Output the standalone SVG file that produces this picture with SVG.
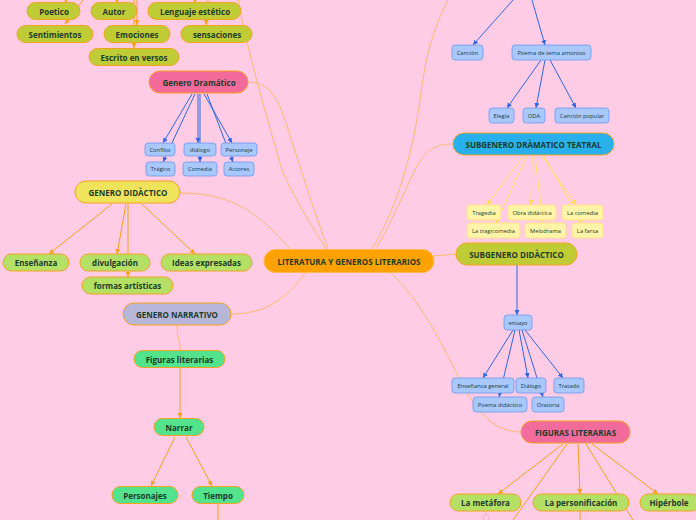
<svg xmlns="http://www.w3.org/2000/svg" width="696" height="520" viewBox="0 0 696 520">
<defs>
<style>
text{font-family:"Open Sans","Noto Sans","DejaVu Sans",sans-serif;fill:#1E3B2A;text-anchor:middle;dominant-baseline:central}
.b{font-size:8px;font-weight:700}
.s{font-size:5.8px;font-weight:400}
.ol{fill:#C0CC36;stroke:#F5A21F;stroke-width:1}
.pk{fill:#F26B9A;stroke:#F5A21F;stroke-width:1}
.ye{fill:#F0E35C;stroke:#F5A21F;stroke-width:1}
.lg{fill:#B4E065;stroke:#F5A21F;stroke-width:1}
.lv{fill:#B8B6D8;stroke:#F5A21F;stroke-width:1}
.gr{fill:#52E38C;stroke:#F5A21F;stroke-width:1}
.or{fill:#FFA200;stroke:#FFB84D;stroke-width:1}
.bl{fill:#27B0EB;stroke:#F5A21F;stroke-width:1}
.sb{fill:#A8C8FF;stroke:#6E98F0;stroke-width:0.8}
.sy{fill:#FFF4A8;stroke:#FFE27A;stroke-width:0.8}
.co{fill:none;stroke:#FFB870;stroke-width:1}
.ao{fill:none;stroke:#F7A11A;stroke-width:1}
.ab{fill:none;stroke:#2F67E0;stroke-width:1}
.ay{fill:none;stroke:#FFE066;stroke-width:1}
</style>
<marker id="mo" markerUnits="userSpaceOnUse" markerWidth="6" markerHeight="6" refX="5" refY="3" orient="auto"><path d="M0,0.5 L5,3 L0,5.5 z" fill="#F7A11A"/></marker>
<marker id="mb" markerUnits="userSpaceOnUse" markerWidth="6" markerHeight="6" refX="5" refY="3" orient="auto"><path d="M0,0.5 L5,3 L0,5.5 z" fill="#2F67E0"/></marker>
<marker id="my" markerUnits="userSpaceOnUse" markerWidth="6" markerHeight="6" refX="5" refY="3" orient="auto"><path d="M0,0.5 L5,3 L0,5.5 z" fill="#FFD94D"/></marker>
</defs>
<rect width="696" height="520" fill="#FFCCE6"/>

<g id="connectors">
<!-- central curves -->
<path class="co" d="M326,249 C305,215 290,190 282,170 C268,120 252,70 238,0"/>
<path class="co" d="M328,249 C310,200 295,150 285,120 C275,90 265,83 248,82"/>
<path class="co" d="M290,249 C260,215 235,193 180,193"/>
<path class="co" d="M306,272 C285,300 265,314 231,314"/>
<path class="co" d="M372,249 C392,215 410,170 420,100 C425,60 432,30 448,0"/>
<path class="co" d="M376,249 C395,215 405,190 415,170 C425,150 435,144 453,144"/>
<path class="co" d="M434,256 L456,254"/>
<path class="co" d="M390,272 C420,300 440,340 460,380 C480,420 500,432 521,432"/>
<path class="co" d="M177,326 C177,335 180,340 180,350"/>
<!-- top orange -->
<path class="ao" d="M66,-2 L66,3" marker-end="url(#mo)"/>
<path class="ao" d="M83,0 L65,24" marker-end="url(#mo)"/>
<path class="ao" d="M117,-2 L117,3" marker-end="url(#mo)"/>
<path class="ao" d="M134,0 L134,48" marker-end="url(#mo)"/>
<path class="ao" d="M137,0 L137,25" marker-end="url(#mo)"/>
<path class="ao" d="M195,-2 L195,3" marker-end="url(#mo)"/>
<path class="ao" d="M208,0 L206,25" marker-end="url(#mo)"/>
<!-- Genero Dramatico -->
<path class="ab" d="M192,94 L163,143" marker-end="url(#mb)"/>
<path class="ab" d="M195,94 L163,162" marker-end="url(#mb)"/>
<path class="ab" d="M198,94 L198,143" marker-end="url(#mb)"/>
<path class="ab" d="M200,94 L200,162" marker-end="url(#mb)"/>
<path class="ab" d="M204,94 L232,143" marker-end="url(#mb)"/>
<path class="ab" d="M207,94 L233,162" marker-end="url(#mb)"/>
<!-- GENERO DIDACTICO -->
<path class="ao" d="M112,204 L49,254" marker-end="url(#mo)"/>
<path class="ao" d="M126,204 L117,254" marker-end="url(#mo)"/>
<path class="ao" d="M128,204 L128,277" marker-end="url(#mo)"/>
<path class="ao" d="M142,204 L195,254" marker-end="url(#mo)"/>
<!-- Narrativo -->
<path class="ao" d="M180,368 L180,418" marker-end="url(#mo)"/>
<path class="ao" d="M175,437 L151,486" marker-end="url(#mo)"/>
<path class="ao" d="M186,437 L212,486" marker-end="url(#mo)"/>
<path class="ao" d="M218,504 L218,520"/>
<!-- top right blue -->
<path class="ab" d="M513,0 L473,45" marker-end="url(#mb)"/>
<path class="ab" d="M532,0 L545,45" marker-end="url(#mb)"/>
<path class="ab" d="M541,60 L507,108" marker-end="url(#mb)"/>
<path class="ab" d="M545,60 L536,108" marker-end="url(#mb)"/>
<path class="ab" d="M550,60 L576,108" marker-end="url(#mb)"/>
<!-- teatral yellow -->
<path class="ay" d="M523,156 L487,205" marker-end="url(#my)" stroke-width="0.6"/>
<path class="ay" d="M527,156 L496,223" marker-end="url(#my)"/>
<path class="ay" d="M532,156 L531,205" marker-end="url(#my)"/>
<path class="ay" d="M535,156 L543,223" marker-end="url(#my)"/>
<path class="ay" d="M542,156 L576,205" marker-end="url(#my)"/>
<path class="ay" d="M544,156 L582,223" marker-end="url(#my)"/>
<!-- subgenero didactico -->
<path class="ab" d="M517,265 L517,315" marker-end="url(#mb)" stroke="#6A7FE0" stroke-width="1.5"/>
<path class="ab" d="M513,330 L483,378" marker-end="url(#mb)"/>
<path class="ab" d="M515,330 L499,397" marker-end="url(#mb)"/>
<path class="ab" d="M519,330 L528,378" marker-end="url(#mb)"/>
<path class="ab" d="M522,330 L543,397" marker-end="url(#mb)"/>
<path class="ab" d="M525,330 L563,378" marker-end="url(#mb)"/>
<!-- figuras literarias -->
<path class="ao" d="M563,444 L498,494" marker-end="url(#mo)"/>
<path class="ao" d="M567,444 L513,520"/>
<path class="ao" d="M578,444 L580,494" marker-end="url(#mo)"/>
<path class="ao" d="M580,511 L580,520"/>
<path class="ao" d="M586,444 L633,520"/>
<path class="ao" d="M592,444 L658,494" marker-end="url(#mo)"/>
<path d="M486,511 L486,515" stroke="#F7B0C8" stroke-width="1"/>
<circle cx="486" cy="518" r="3" fill="none" stroke="#F7B0C8" stroke-width="1"/>
</g>

<g id="n-poetico"><rect class="ol" x="27" y="2.5" width="53" height="17" rx="8.5"/><text class="b" x="54" y="11">Poetico</text></g>
<g id="n-autor"><rect class="ol" x="91" y="2.5" width="46" height="17" rx="8.5"/><text class="b" x="114" y="11">Autor</text></g>
<g id="n-lenguaje"><rect class="ol" x="148" y="2.5" width="93" height="17" rx="8.5"/><text class="b" x="195" y="11">Lenguaje estético</text></g>
<g id="n-sentimientos"><rect class="ol" x="17" y="25.5" width="76" height="17" rx="8.5"/><text class="b" x="55" y="34">Sentimientos</text></g>
<g id="n-emociones"><rect class="ol" x="104" y="25.5" width="66" height="17" rx="8.5"/><text class="b" x="137" y="34">Emociones</text></g>
<g id="n-sensaciones"><rect class="ol" x="181" y="25.5" width="71" height="17" rx="8.5"/><text class="b" x="217" y="34">sensaciones</text></g>
<g id="n-escrito"><rect class="ol" x="89" y="48.5" width="90" height="17" rx="8.5"/><text class="b" x="134" y="57">Escrito en versos</text></g>
<g id="n-dramatico"><rect class="pk" x="149" y="71" width="99" height="22" rx="11"/><text class="b" x="199" y="82">Genero Dramático</text></g>

<g id="n-conflito"><rect class="sb" x="145" y="143" width="30" height="13" rx="3"/><text class="s" x="160" y="149.5">Conflito</text></g>
<g id="n-dialogo1"><rect class="sb" x="184" y="143" width="32" height="13" rx="3"/><text class="s" x="200" y="149.5">diálogo</text></g>
<g id="n-personaje"><rect class="sb" x="221" y="143" width="36" height="13" rx="3"/><text class="s" x="239" y="149.5">Personaje</text></g>
<g id="n-tragico"><rect class="sb" x="146" y="162" width="29" height="14" rx="3"/><text class="s" x="160.5" y="169">Trágico</text></g>
<g id="n-comedia"><rect class="sb" x="183" y="162" width="34" height="14" rx="3"/><text class="s" x="200" y="169">Comedia</text></g>
<g id="n-actores"><rect class="sb" x="224" y="162" width="30" height="14" rx="3"/><text class="s" x="239" y="169">Actores</text></g>

<g id="n-gdidactico"><rect class="ye" x="75" y="181" width="105" height="22" rx="11"/><text class="b" x="128" y="192">GENERO DIDÀCTICO</text></g>
<g id="n-ensenanza"><rect class="lg" x="3" y="254" width="66" height="17" rx="8.5"/><text class="b" x="36" y="262.5">Enseñanza</text></g>
<g id="n-divulgacion"><rect class="lg" x="80" y="254" width="70" height="17" rx="8.5"/><text class="b" x="115" y="262.5">divulgación</text></g>
<g id="n-ideas"><rect class="lg" x="161" y="254" width="91" height="17" rx="8.5"/><text class="b" x="206.5" y="262.5">Ideas expresadas</text></g>
<g id="n-formas"><rect class="lg" x="82" y="277" width="91" height="17" rx="8.5"/><text class="b" x="127.5" y="285.5">formas artísticas</text></g>

<g id="n-narrativo"><rect class="lv" x="123" y="303" width="108" height="22" rx="11"/><text class="b" x="177" y="314">GENERO NARRATIVO</text></g>
<g id="n-figuras"><rect class="gr" x="134" y="350.5" width="91" height="17" rx="8.5"/><text class="b" x="179.5" y="359">Figuras literarias</text></g>
<g id="n-narrar"><rect class="gr" x="154" y="418.5" width="50" height="17" rx="8.5"/><text class="b" x="179" y="427">Narrar</text></g>
<g id="n-personajes"><rect class="gr" x="112" y="486.5" width="66" height="17" rx="8.5"/><text class="b" x="145" y="495">Personajes</text></g>
<g id="n-tiempo"><rect class="gr" x="192" y="486.5" width="52" height="17" rx="8.5"/><text class="b" x="218" y="495">Tiempo</text></g>

<g id="n-central"><rect class="or" x="264" y="249.5" width="170" height="23" rx="11.5"/><text class="b" x="349" y="261">LITERATURA Y GENEROS LITERARIOS</text></g>

<g id="n-cancion"><rect class="sb" x="452" y="45" width="31" height="15" rx="3"/><text class="s" x="467.5" y="52.5">Canción</text></g>
<g id="n-poema"><rect class="sb" x="512" y="45" width="79" height="15" rx="3"/><text class="s" x="551.5" y="52.5">Poema de tema amoroso</text></g>
<g id="n-elegia"><rect class="sb" x="489" y="108" width="25" height="15" rx="3"/><text class="s" x="501.5" y="115.5">Elegía</text></g>
<g id="n-oda"><rect class="sb" x="523" y="108" width="22" height="15" rx="3"/><text class="s" x="534" y="115.5">ODA</text></g>
<g id="n-cpopular"><rect class="sb" x="555" y="108" width="54" height="15" rx="3"/><text class="s" x="582" y="115.5">Canción popular</text></g>

<g id="n-teatral"><rect class="bl" x="453" y="133" width="161" height="22" rx="11"/><text class="b" x="533.5" y="144">SUBGENERO DRÀMATICO TEATRAL</text></g>
<g id="n-tragedia"><rect class="sy" x="467" y="205" width="34" height="15" rx="3"/><text class="s" x="484" y="212.5">Tragedia</text></g>
<g id="n-obra"><rect class="sy" x="508" y="205" width="48" height="15" rx="3"/><text class="s" x="532" y="212.5">Obra didáctica</text></g>
<g id="n-lacomedia"><rect class="sy" x="562" y="205" width="41" height="15" rx="3"/><text class="s" x="582.5" y="212.5">La comedia</text></g>
<g id="n-tragicomedia"><rect class="sy" x="467" y="223" width="53" height="15" rx="3"/><text class="s" x="493.5" y="230.5">La tragicomedia</text></g>
<g id="n-melodrama"><rect class="sy" x="525" y="223" width="41" height="15" rx="3"/><text class="s" x="545.5" y="230.5">Melodrama</text></g>
<g id="n-farsa"><rect class="sy" x="572" y="223" width="31" height="15" rx="3"/><text class="s" x="587.5" y="231">La farsa</text></g>

<g id="n-sdidactico"><rect class="ol" x="456" y="243" width="121" height="22" rx="11"/><text class="b" x="516.5" y="254">SUBGENERO DIDÀCTICO</text></g>
<g id="n-ensayo"><rect class="sb" x="504" y="315" width="28" height="15" rx="3"/><text class="s" x="518" y="322.5">ensayo</text></g>
<g id="n-engeneral"><rect class="sb" x="452" y="378" width="62" height="15" rx="3"/><text class="s" x="483" y="385.5">Enseñanza general</text></g>
<g id="n-dialogo2"><rect class="sb" x="516" y="378" width="30" height="15" rx="3"/><text class="s" x="531" y="385.5">Diálogo</text></g>
<g id="n-tratado"><rect class="sb" x="554" y="378" width="30" height="15" rx="3"/><text class="s" x="569" y="385.5">Tratado</text></g>
<g id="n-poemadid"><rect class="sb" x="473" y="397" width="54" height="15" rx="3"/><text class="s" x="500" y="404.5">Poema didáctico</text></g>
<g id="n-oratoria"><rect class="sb" x="532" y="397" width="32" height="15" rx="3"/><text class="s" x="548" y="404.5">Oratoria</text></g>

<g id="n-figlit"><rect class="pk" x="521" y="421" width="109" height="22" rx="11"/><text class="b" x="575.5" y="432">FIGURAS LITERARIAS</text></g>
<g id="n-metafora"><rect class="lg" x="450" y="494" width="71" height="17" rx="8.5"/><text class="b" x="485.5" y="502.5">La metáfora</text></g>
<g id="n-personif"><rect class="lg" x="533" y="494" width="96" height="17" rx="8.5"/><text class="b" x="581" y="502.5">La personificación</text></g>
<g id="n-hiperbole"><rect class="lg" x="640" y="494" width="60" height="17" rx="8.5"/><text class="b" x="669" y="502.5">Hipérbole</text></g>
</svg>
